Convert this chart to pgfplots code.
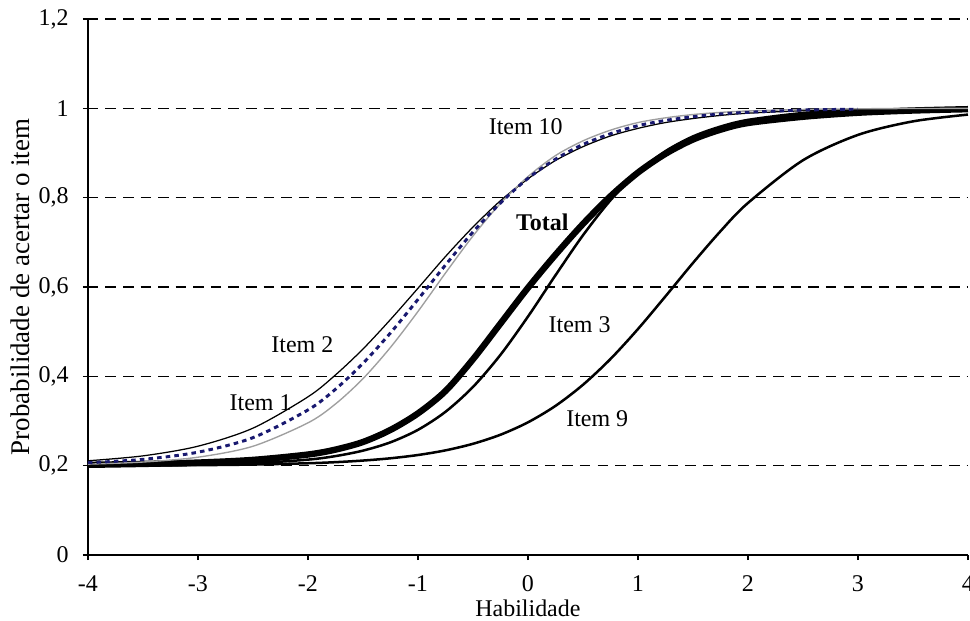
\documentclass[border=0pt]{standalone}
\usepackage{fontspec}
\setmainfont{Liberation Serif}
\usepackage{pgfplots}
\pgfplotsset{compat=1.18}
\usetikzlibrary{calc}
\definecolor{itemnavy}{RGB}{25,25,112}

\begin{document}
\begin{tikzpicture}
\begin{axis}[
  scale only axis,
  width=385.6pt, height=234.9pt,
  xmin=-4, xmax=4, ymin=0, ymax=1.2,
  axis x line*=bottom, axis y line*=left,
  x axis line style={-}, y axis line style={-},
  axis line style={black, line width=0.6pt},
  xtick={-4,-3,-2,-1,0,1,2,3,4},
  xticklabels={-4,-3,-2,-1,0,1,2,3,4},
  ytick={0,0.2,0.4,0.6,0.8,1,1.2},
  yticklabels={0,{0,2},{0,4},{0,6},{0,8},1,{1,2}},
  tick align=outside, major tick length=2.2pt,
  tick style={black, line width=0.6pt},
  ymajorgrids,
  major grid style={black, line width=0.5pt, dash pattern=on 4.6pt off 3.1pt},
  tick label style={font=\fontsize{10.5pt}{12pt}\selectfont, inner sep=0pt},
  xticklabel style={anchor=north, yshift=-6.5pt},
  yticklabel style={anchor=east, xshift=-6pt},
  xlabel={Habilidade},
  ylabel={Probabilidade de acertar o item},
  xlabel style={font=\fontsize{10.5pt}{12pt}\selectfont, at={(axis description cs:0.5,-0.099)}, anchor=center},
  ylabel style={font=\fontsize{11.8pt}{13pt}\selectfont, at={(axis description cs:-0.0773,0.5)}, anchor=center},
  clip=false,
]
% Item 9
\addplot[black, line width=1.1pt, smooth] coordinates {
(-4,0.2003) (-3.5,0.2006) (-3,0.2012) (-2.5,0.2026) (-2,0.2055) (-1.75,0.2079)
(-1.5,0.2115) (-1.25,0.2166) (-1,0.2239) (-0.75,0.2343) (-0.5,0.249) (-0.25,0.2693)
(0,0.297) (0.25,0.3338) (0.5,0.381) (0.75,0.4387) (1,0.5058) (1.25,0.579)
(1.5,0.6537) (1.75,0.7247) (2,0.788) (2.5,0.8836) (3,0.9404) (3.5,0.9707) (4,0.9859)};
% Item 3
\addplot[black, line width=1.1pt, smooth] coordinates {
(-4,0.2003) (-3.5,0.2009) (-3,0.2022) (-2.5,0.2054) (-2,0.2136) (-1.75,0.2215)
(-1.5,0.2337) (-1.25,0.2523) (-1,0.2802) (-0.75,0.3205) (-0.5,0.3761) (-0.25,0.448)
(0,0.5336) (0.25,0.626) (0.5,0.7156) (0.75,0.794) (1,0.857) (1.25,0.904)
(1.5,0.937) (1.75,0.959) (2,0.974) (2.5,0.9894) (3,0.9958) (3.5,0.9983) (4,0.9993)};
% Total
\addplot[black, line width=2.8pt, smooth] coordinates {
(-4,0.202) (-3.5,0.204) (-3,0.207) (-2.5,0.213) (-2,0.225) (-1.75,0.236)
(-1.5,0.253) (-1.25,0.280) (-1,0.317) (-0.75,0.367) (-0.5,0.438) (-0.25,0.518)
(0,0.598) (0.25,0.672) (0.5,0.741) (0.75,0.803) (1,0.856) (1.25,0.898)
(1.5,0.930) (1.75,0.952) (2,0.967) (2.5,0.981) (3,0.990) (3.5,0.995) (4,0.998)};
% Item 2
\addplot[black, line width=0.55pt, smooth] coordinates {
(-4,0.211) (-3.5,0.222) (-3,0.2436) (-2.5,0.284) (-2,0.354) (-1.75,0.403)
(-1.5,0.461) (-1.25,0.527) (-1,0.597) (-0.75,0.668) (-0.5,0.734) (-0.25,0.793)
(0,0.842) (0.25,0.883) (0.5,0.914) (0.75,0.938) (1,0.955) (1.25,0.968)
(1.5,0.977) (1.75,0.984) (2,0.989) (2.5,0.9944) (3,0.9972) (3.5,0.9986) (4,0.9993)};
% Item 1
\addplot[gray!75, line width=0.6pt, smooth] coordinates {
(-4,0.2035) (-3.5,0.2082) (-3,0.219) (-2.5,0.2435) (-2,0.2958) (-1.75,0.338)
(-1.5,0.3946) (-1.25,0.4646) (-1,0.545) (-0.75,0.631) (-0.5,0.714) (-0.25,0.787)
(0,0.847) (0.25,0.894) (0.5,0.927) (0.75,0.951) (1,0.968) (1.25,0.9786)
(1.5,0.986) (1.75,0.9908) (2,0.994) (2.5,0.9974) (3,0.9989) (3.5,0.9995) (4,0.9998)};
% Item 10
\addplot[itemnavy, line width=1.3pt, dash pattern=on 2pt off 1.8pt, smooth] coordinates {
(-4,0.2066) (-3.5,0.2142) (-3,0.2302) (-2.5,0.2627) (-2,0.3247) (-1.75,0.371)
(-1.5,0.429) (-1.25,0.497) (-1,0.572) (-0.75,0.649) (-0.5,0.723) (-0.25,0.788)
(0,0.843) (0.25,0.886) (0.5,0.919) (0.75,0.943) (1,0.961) (1.25,0.9728)
(1.5,0.981) (1.75,0.9873) (2,0.991) (2.5,0.996) (3,0.998)};

\node[font=\fontsize{10.5pt}{12pt}\selectfont] at (axis cs:-0.02,0.96) {Item 10};
\node[font=\fontsize{10.5pt}{12pt}\selectfont\bfseries] at (axis cs:0.13,0.745) {Total};
\node[font=\fontsize{10.5pt}{12pt}\selectfont] at (axis cs:-2.05,0.47) {Item 2};
\node[font=\fontsize{10.5pt}{12pt}\selectfont] at (axis cs:-2.43,0.34) {Item 1};
\node[font=\fontsize{10.5pt}{12pt}\selectfont] at (axis cs:0.47,0.515) {Item 3};
\node[font=\fontsize{10.5pt}{12pt}\selectfont] at (axis cs:0.63,0.306) {Item 9};
\end{axis}
\pgfresetboundingbox
\path[use as bounding box] ($(current axis.south west)+(-38.5pt,-28.5pt)$) rectangle ($(current axis.north east)+(0.9pt,8.3pt)$);
\end{tikzpicture}
\end{document}
